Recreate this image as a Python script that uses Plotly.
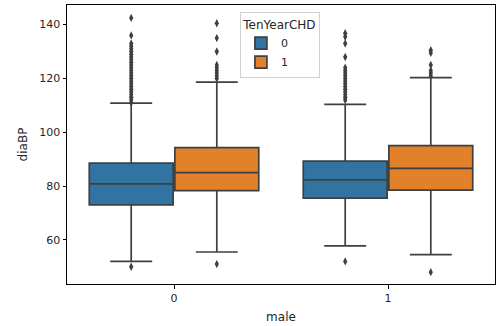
import plotly.graph_objects as go

# Categories and hue levels
male_levels = [0, 1]
hue_levels = ["0", "1"]

# Box statistics per hue level (index by male level)
q1_chd0 = [73.0, 75.5]
median_chd0 = [80.8, 82.3]
q3_chd0 = [88.5, 89.3]
lower_chd0 = [52.0, 57.8]
upper_chd0 = [110.8, 110.4]

q1_chd1 = [78.3, 78.5]
median_chd1 = [85.0, 86.6]
q3_chd1 = [94.3, 95.0]
lower_chd1 = [55.5, 54.5]
upper_chd1 = [118.6, 120.3]

# Outliers per box
out_chd0 = [
    [50, 111, 112, 113, 114, 115, 116, 117, 118, 119, 120, 121, 122, 123, 124,
     125, 126, 127, 128, 129, 130, 131, 132, 133, 136, 142.5],
    [52, 112, 113, 114, 115, 116, 117, 118, 119, 120, 121, 122, 123, 124, 128,
     133, 135.5, 136.8],
]
out_chd1 = [
    [51, 120, 121, 122, 123, 124, 125, 130, 135, 140.5],
    [48, 121, 122, 123, 125, 129.5, 130.5],
]

y_ticks = [60, 80, 100, 120, 140]

colors = ["#3274a1", "#e1812c"]
edge = "#3f3f3f"
stats = [
    (q1_chd0, median_chd0, q3_chd0, lower_chd0, upper_chd0, out_chd0),
    (q1_chd1, median_chd1, q3_chd1, lower_chd1, upper_chd1, out_chd1),
]

fig = go.Figure()
for name, col, (q1, med, q3, lo, hi, outs) in zip(hue_levels, colors, stats):
    fig.add_trace(go.Box(
        x=male_levels, q1=q1, median=med, q3=q3,
        lowerfence=lo, upperfence=hi, y=outs,
        name=name, fillcolor=col,
        line=dict(color=edge, width=1.7),
        marker=dict(symbol="diamond-tall", size=6, color=edge),
        boxpoints="all", jitter=0, pointpos=0,
        whiskerwidth=0.5, hoverinfo="skip",
    ))

tick_font = dict(family="DejaVu Sans", size=11, color="#262626")
label_font = dict(family="DejaVu Sans", size=12, color="#262626")
fig.update_layout(
    width=496, height=326,
    margin=dict(l=67, r=1, t=5, b=42),
    paper_bgcolor="white", plot_bgcolor="white",
    boxmode="group", boxgap=0.2, boxgroupgap=0.02,
    font=tick_font,
    legend=dict(
        title=dict(text="TenYearCHD", side="top center", font=label_font),
        x=0.404, y=0.975, xanchor="left", yanchor="top",
        bgcolor="white", bordercolor="#d0d0d0", borderwidth=1,
        font=tick_font, tracegroupgap=0,
    ),
    xaxis=dict(
        range=[-0.5, 1.5], tickvals=male_levels, ticktext=[str(v) for v in male_levels],
        showgrid=False, zeroline=False, showline=True, mirror=True,
        linecolor="black", linewidth=1, ticks="outside", ticklen=3.5,
        tickcolor="black", tickfont=tick_font,
        title=dict(text="male", font=label_font, standoff=8),
    ),
    yaxis=dict(
        range=[43.6, 147.3], tickvals=y_ticks,
        showgrid=False, zeroline=False, showline=True, mirror=True,
        linecolor="black", linewidth=1, ticks="outside", ticklen=3.5,
        tickcolor="black", tickfont=tick_font,
        title=dict(text="diaBP", font=label_font, standoff=9),
    ),
)
fig.write_html("out.html", config={"displayModeBar": False},
               post_script="document.body.style.margin='0';")
